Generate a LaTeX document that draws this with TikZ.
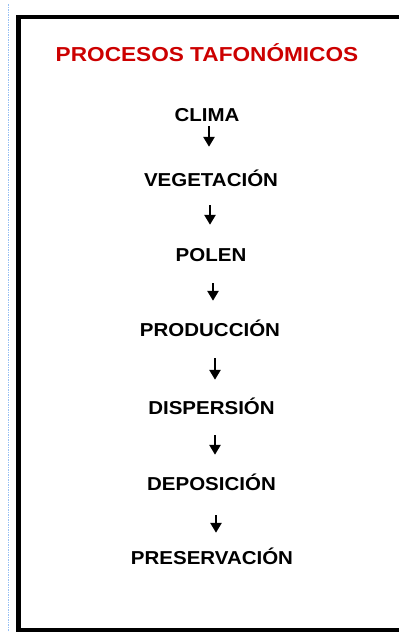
\documentclass[tikz,border=0pt]{standalone}
\usepackage{fontspec}
\setmainfont{Liberation Sans}
\newfontfamily\itemfont{Liberation Sans}[FakeStretch=1.096]
\newfontfamily\titlefont{Liberation Sans}[FakeStretch=1.12]
\usetikzlibrary{arrows.meta,calc}
\definecolor{titlered}{RGB}{204,0,0}
\definecolor{guideblue}{RGB}{150,192,245}
\begin{document}
\begin{tikzpicture}[x=1pt,y=-1pt,
  item/.style={inner sep=0pt, text height=13.4pt, text depth=0pt,
    font=\itemfont\bfseries\fontsize{18.7pt}{20pt}\selectfont},
  titlestyle/.style={inner sep=0pt, text height=14.5pt, text depth=0pt, text=titlered,
    font=\titlefont\bfseries\fontsize{20.2pt}{22pt}\selectfont},
  arr/.style={line width=2.6pt, -{Triangle[width=11pt,length=10pt]}}]
\useasboundingbox (0,0) rectangle (399,632);
\clip (0,0) rectangle (399,632);
\draw[guideblue, line width=1.4pt, dash pattern=on 1.5pt off 1pt] (8.3,4) -- (8.3,632);
\draw[black, line width=4.7pt] (410,17) -- (18.4,17) -- (18.4,630.5) -- (410,630.5);

\node[titlestyle] (title) at (207,54) {PROCESOS TAFONÓMICOS};
\node[item] (clima) at (207,115) {CLIMA};
\node[item] (veg) at (211,180) {VEGETACIÓN};
\node[item] (polen) at (211,255) {POLEN};
\node[item] (prod) at (210,330) {PRODUCCIÓN};
\node[item] (disp) at (211.5,407.5) {DISPERSIÓN};
\node[item] (dep) at (211.5,483.5) {DEPOSICIÓN};
\node[item] (pres) at (212,557.5) {PRESERVACIÓN};

\draw[arr] ($(clima.south)+(2,4.3)$) -- ($(clima.south |- veg.north)+(2,-26.3)$);
\draw[arr] ($(veg.south)+(-1,18.3)$) -- ($(veg.south |- polen.north)+(-1,-23.3)$);
\draw[arr] ($(polen.south)+(2,21.3)$) -- ($(polen.south |- prod.north)+(2,-22.3)$);
\draw[arr] ($(prod.south)+(5,21.3)$) -- ($(prod.south |- disp.north)+(5,-20.8)$);
\draw[arr] ($(disp.south)+(3.5,20.8)$) -- ($(disp.south |- dep.north)+(3.5,-21.8)$);
\draw[arr] ($(dep.south)+(4.5,24.8)$) -- ($(dep.south |- pres.north)+(4.5,-17.8)$);
\end{tikzpicture}
\end{document}
